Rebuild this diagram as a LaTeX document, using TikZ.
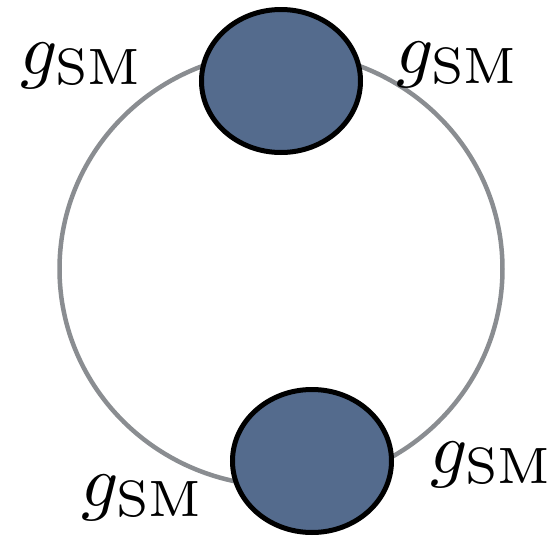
\documentclass[tikz,border=0pt]{standalone}
\usepackage{graphicx}
\usetikzlibrary{shapes.geometric}
\definecolor{ringgray}{RGB}{138,141,145}
\definecolor{blobblue}{RGB}{84,107,141}
\tikzset{
  ring/.style={draw=ringgray, line width=4.5pt},
  blob/.style={ellipse, draw=black, line width=5pt, fill=blobblue, inner sep=0pt,
               minimum width=159pt, minimum height=143pt},
  lbl/.style={anchor=base west, inner sep=0pt}
}
\newcommand{\gsmlabel}{\scalebox{7.3}{$g_{\mathrm{SM}}$}}
\begin{document}
\begin{tikzpicture}[x=1pt,y=-1pt]
\useasboundingbox (0,0) rectangle (550,536);
\draw[ring] (281,269) ellipse [x radius=221.5pt, y radius=217pt];
\node[blob] (top) at (281,81) {};
\node[blob] (bot) at (312,461) {};
\node[lbl] (tl) at (20,74) {\gsmlabel};
\node[lbl] (tr) at (396,73) {\gsmlabel};
\node[lbl] (br) at (430,473) {\gsmlabel};
\node[lbl] (bl) at (81,506) {\gsmlabel};
\end{tikzpicture}
\end{document}
